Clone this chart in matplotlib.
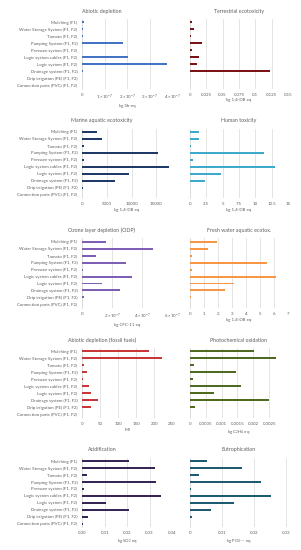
import matplotlib
matplotlib.use("Agg")
import matplotlib.pyplot as plt
from matplotlib.ticker import FixedLocator, FixedFormatter

categories = [
    "Mulching (F1)",
    "Water Storage System (F1, F2)",
    "Tomato (F1, F2)",
    "Pumping System (F1, F2)",
    "Pressure system (F1, F2)",
    "Logic system cables (F1, F2)",
    "Logic system (F1, F2)",
    "Drainage system (F1, F2)",
    "Drip irrigation (PE) (F1, F2)",
    "Connection parts (PVC) (F1, F2)",
]

abiotic = [0.09e-7, 0.03e-7, 0.01e-7, 1.81e-7, 0.005e-7, 2.06e-7, 3.79e-7, 0.05e-7, 0.005e-7, 0.002e-7]
terrestrial = [0.003, 0.0066, 0.002, 0.018, 0.003, 0.0148, 0.0107, 0.123, 0.001, 0.0]
marine = [2950, 3970, 340, 15300, 270, 17500, 9400, 6600, 200, 0]
human = [1.48, 1.33, 0.15, 11.4, 0.56, 12.96, 4.74, 2.35, 0.1, 0.02]
odp = [1.59e-7, 4.72e-7, 0.9e-7, 2.91e-7, 0.07e-7, 3.31e-7, 1.30e-7, 2.51e-7, 0.13e-7, 0.0]
freshwater = [1.92, 1.31, 0.19, 5.48, 0.19, 6.18, 3.18, 2.53, 0.07, 0.0]
fossil = [185, 222, 5.5, 14, 1, 20, 24, 45, 24, 0.5]
photochem = [0.00201, 0.00272, 0.000125, 0.00146, 0.00009, 0.00161, 0.00075, 0.00249, 0.00016, 0.0]
acid = [0.0207, 0.0325, 0.002, 0.0328, 0.0006, 0.035, 0.0107, 0.0207, 0.0024, 0.0002]
eutro = [0.0055, 0.0162, 0.0028, 0.0222, 0.0003, 0.0253, 0.0138, 0.0065, 0.0008, 0.0]

titles = [
    "Abiotic depletion", "Terrestrial ecotoxicity",
    "Marine aquatic ecotoxicity", "Human toxicity",
    "Ozone layer depletion (ODP)", "Fresh water aquatic ecotox.",
    "Abiotic depletion (fossil fuels)", "Photochemical oxidation",
    "Acidification", "Eutrophication",
]
units = [
    "kg Sb-eq", "kg 1,4-DB eq",
    "kg 1,4-DB eq", "kg 1,4-DB eq",
    "kg CFC-11 eq", "kg 1,4-DB eq",
    "MJ", r"kg C$_2$H$_4$ eq",
    r"kg SO$_2$ eq", r"kg PO$_4$--- eq",
]
tick_values = [
    [0, 1e-7, 2e-7, 3e-7, 4e-7], [0, 0.025, 0.05, 0.075, 0.1, 0.125, 0.15],
    [0, 5000, 10000, 15000], [0, 2.5, 5, 7.5, 10, 12.5, 15],
    [0, 2e-7, 4e-7, 6e-7], [0, 1, 2, 3, 4, 5, 6, 7],
    [0, 50, 100, 150, 200, 250], [0, 0.0005, 0.001, 0.0015, 0.002, 0.0025],
    [0, 0.01, 0.02, 0.03, 0.04], [0, 0.01, 0.02, 0.03],
]
tick_labels = [
    ["0", r"$1\times10^{-7}$", r"$2\times10^{-7}$", r"$3\times10^{-7}$", r"$4\times10^{-7}$"],
    ["0", "0.025", "0.05", "0.075", "0.1", "0.125", "0.15"],
    ["0", "5000", "10000", "15000"],
    ["0", "2.5", "5", "7.5", "10", "12.5", "15"],
    ["0", r"$2\times10^{-7}$", r"$4\times10^{-7}$", r"$6\times10^{-7}$"],
    ["0", "1", "2", "3", "4", "5", "6", "7"],
    ["0", "50", "100", "150", "200", "250"],
    ["0", "0.0005", "0.001", "0.0015", "0.002", "0.0025"],
    ["0.00", "0.01", "0.02", "0.03", "0.04"],
    ["0", "0.01", "0.02", "0.03"],
]
xmax = [4e-7, 0.15, 18200, 15, 6e-7, 7, 250, 0.00309, 0.04, 0.0306]
series = [abiotic, terrestrial, marine, human, odp, freshwater, fossil, photochem, acid, eutro]
colors = ["#4472C4", "#7B1416", "#1F3A68", "#3FA9CC", "#7F5FB5",
          "#F79646", "#C8383A", "#4F6A1E", "#372655", "#1D5B70"]

plt.rcParams['font.family'] = ['Lato', 'DejaVu Sans']
plt.rcParams['mathtext.fontset'] = 'custom'
plt.rcParams['mathtext.rm'] = 'Lato'
plt.rcParams['mathtext.it'] = 'Lato:italic'

W, H = 301, 550
fig = plt.figure(figsize=(W / 100, H / 100), dpi=100)
fig.patch.set_facecolor("white")

TXT = "#5F5F5F"
GRID = "#D9D9D9"
row_step = 109.7
fs = 3.15

for i in range(10):
    row, col = divmod(i, 2)
    off = row * row_step
    if col == 0:
        x0, x1 = 82.3, 172.0
    else:
        x0, x1 = 189.8, 288.0
    y_top, y_bot = 18.8 + off, 88.5 + off
    ax = fig.add_axes([x0 / W, 1 - y_bot / H, (x1 - x0) / W, (y_bot - y_top) / H])
    ypos = list(range(len(categories)))
    ax.barh(ypos, series[i], height=0.28, color=colors[i], zorder=3)
    ax.set_ylim(len(categories) - 0.5, -0.5)
    ax.set_xlim(0, xmax[i])
    ax.xaxis.set_major_locator(FixedLocator(tick_values[i]))
    ax.xaxis.set_major_formatter(FixedFormatter(tick_labels[i]))
    ax.grid(axis="x", color=GRID, linewidth=0.5, zorder=0)
    for s in ["top", "right", "bottom"]:
        ax.spines[s].set_visible(False)
    ax.spines["left"].set_color(GRID)
    ax.spines["left"].set_linewidth(0.5)
    ax.tick_params(axis="both", length=0, labelsize=fs, labelcolor=TXT)
    ax.tick_params(axis="x", pad=3.0)
    ax.set_yticks(ypos)
    if col == 0:
        ax.set_yticklabels(categories)
        ax.tick_params(axis="y", pad=3.5)
    else:
        ax.set_yticklabels([])
    ax.set_xlabel(units[i], fontsize=fs, color=TXT, labelpad=1.3)
    tx = 102 if col == 0 else 239
    fig.text(tx / W, 1 - (11 + off) / H, titles[i], ha="center", va="center",
             fontsize=3.8, color=TXT)

fig.savefig("out.png", dpi=100, facecolor="white")
